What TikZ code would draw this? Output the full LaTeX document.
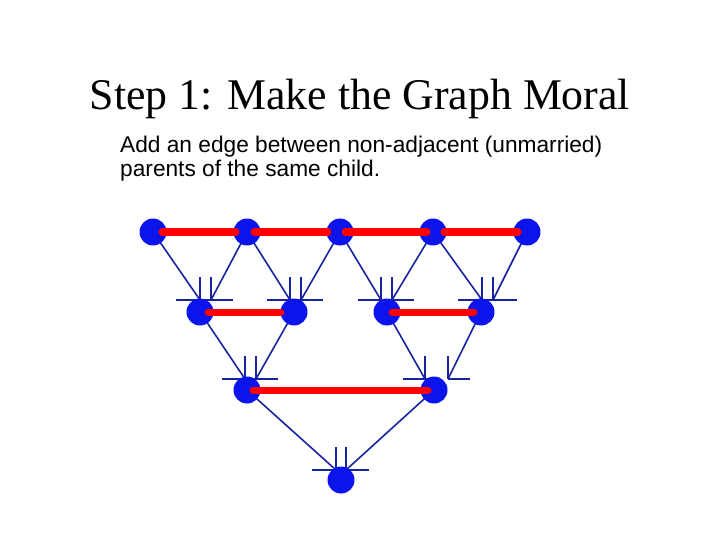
\documentclass[tikz,border=0pt]{standalone}
\usepackage{fontspec}
\setmainfont{Liberation Serif}
\newfontfamily\arialf{Liberation Sans}
\definecolor{nodeblue}{RGB}{10,20,235}
\definecolor{edgeblue}{RGB}{25,35,160}
\definecolor{moralred}{RGB}{255,0,0}
\begin{document}
\begin{tikzpicture}[x=1pt,y=-1pt,
  bnode/.style={circle, fill=nodeblue, minimum size=27pt, inner sep=0pt},
  diredge/.style={draw=edgeblue, line width=1.6pt},
  stub/.style={draw=edgeblue, line width=1.6pt},
  moral/.style={draw=moralred, line width=7pt, line cap=round}]
\useasboundingbox (0,0) rectangle (720,540);
% titles
\node[anchor=base, inner sep=0pt, font=\fontsize{43.8}{52}\selectfont] (title) at (360,110) {Step 1: Make the Graph Moral};
\node[anchor=north west, inner sep=0pt, align=left, font=\arialf\fontsize{22.7}{23.5}\selectfont] (sub) at (120,136)
  {Add an edge between non-adjacent (unmarried)\\parents of the same child.};
% node positions
\coordinate (pt0) at (153,232);
\coordinate (pt1) at (247,232);
\coordinate (pt2) at (340,232);
\coordinate (pt3) at (433,232);
\coordinate (pt4) at (527,232);
\coordinate (pm0) at (200,312);
\coordinate (pm1) at (294,312);
\coordinate (pm2) at (387,312);
\coordinate (pm3) at (481,312);
\coordinate (pr0) at (247,390);
\coordinate (pr1) at (434,390);
\coordinate (pb) at (341,480);
% arrow end points and stubs
\coordinate (m0a) at (200,300); \coordinate (m0b) at (211,300);
\coordinate (m1a) at (290,300); \coordinate (m1b) at (301,300);
\coordinate (m2a) at (381,300); \coordinate (m2b) at (392,300);
\coordinate (m3a) at (482,300); \coordinate (m3b) at (493,300);
\coordinate (r0a) at (245,379); \coordinate (r0b) at (256,379);
\coordinate (r1a) at (425,379); \coordinate (r1b) at (448,379);
\coordinate (ba) at (336,470); \coordinate (bb) at (346,470);
% directed edges
\draw[diredge] (pt0) -- (m0a);
\draw[diredge] (pt1) -- (m0b);
\draw[diredge] (pt1) -- (m1a);
\draw[diredge] (pt2) -- (m1b);
\draw[diredge] (pt2) -- (m2a);
\draw[diredge] (pt3) -- (m2b);
\draw[diredge] (pt3) -- (m3a);
\draw[diredge] (pt4) -- (m3b);
\draw[diredge] (pm0) -- (r0a);
\draw[diredge] (pm1) -- (r0b);
\draw[diredge] (pm2) -- (r1a);
\draw[diredge] (pm3) -- (r1b);
\draw[diredge] (pr0) -- (ba);
\draw[diredge] (pr1) -- (bb);
% arrowhead stubs
\foreach \c in {m0a,m0b,m1a,m1b,m2a,m2b,m3a,m3b,r0a,r0b,r1a,r1b,ba,bb}
  \draw[stub] (\c) -- ++(0,-23);
\draw[stub] (176,300) -- (233,300);
\draw[stub] (267,300) -- (323,300);
\draw[stub] (358,300) -- (414,300);
\draw[stub] (458,300) -- (517,300);
\draw[stub] (222,379) -- (278,379);
\draw[stub] (403,379) -- (430,379);
\draw[stub] (448,379) -- (470,379);
\draw[stub] (312,470) -- (369,470);
% nodes
\node[bnode] (t0) at (pt0) {};
\node[bnode] (t1) at (pt1) {};
\node[bnode] (t2) at (pt2) {};
\node[bnode] (t3) at (pt3) {};
\node[bnode] (t4) at (pt4) {};
\node[bnode] (m0) at (pm0) {};
\node[bnode] (m1) at (pm1) {};
\node[bnode] (m2) at (pm2) {};
\node[bnode] (m3) at (pm3) {};
\node[bnode] (r0) at (pr0) {};
\node[bnode] (r1) at (pr1) {};
\node[bnode] (b) at (pb) {};
% moral edges
\draw[moral] ([xshift=9pt]t0.center) -- ([xshift=-11pt]t1.center);
\draw[moral] ([xshift=7pt]t1.center) -- ([xshift=-12pt]t2.center);
\draw[moral] ([xshift=5pt]t2.center) -- ([xshift=-6pt]t3.center);
\draw[moral] ([xshift=11pt]t3.center) -- ([xshift=-9pt]t4.center);
\draw[moral] ([xshift=8pt]m0.center) -- ([xshift=-13pt]m1.center);
\draw[moral] ([xshift=5pt]m2.center) -- ([xshift=-7pt]m3.center);
\draw[moral] ([xshift=6pt]r0.center) -- ([xshift=-6pt]r1.center);
\end{tikzpicture}
\end{document}
